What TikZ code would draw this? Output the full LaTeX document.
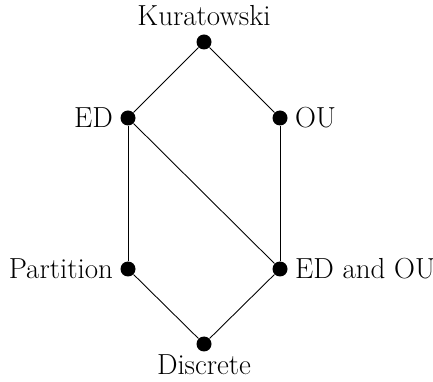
\documentclass[tikz,border=0pt]{standalone}
\usepackage{tikz}
\usetikzlibrary{positioning}

\begin{document}
\begin{tikzpicture}[
  font=\fontsize{16.5}{19}\selectfont,
  topnode/.style={circle, fill=black, minimum size=3mm, inner sep=0pt},
  orderline/.style={draw=black, line width=0.5pt}
]
  \useasboundingbox (0,0) rectangle (8.66,7.62);
  \node[topnode, label={[label distance=0.4mm]above:Kuratowski}] (kur) at (4.08,6.78) {};
  \node[topnode, label={[label distance=0.2mm]left:ED}] (ed) at (2.56,5.26) {};
  \node[topnode, label={[label distance=0.2mm]right:OU}] (ou) at (5.60,5.26) {};
  \node[topnode, label={[label distance=0.2mm]left:Partition}] (part) at (2.56,2.24) {};
  \node[topnode, label={[label distance=0.2mm]right:ED and OU}] (edou) at (5.60,2.24) {};
  \node[topnode, label={[label distance=-0.6mm]below:Discrete}] (disc) at (4.08,0.74) {};
  \draw[orderline] (kur) -- (ed);
  \draw[orderline] (kur) -- (ou);
  \draw[orderline] (ed) -- (part);
  \draw[orderline] (ed) -- (edou);
  \draw[orderline] (ou) -- (edou);
  \draw[orderline] (part) -- (disc);
  \draw[orderline] (edou) -- (disc);
\end{tikzpicture}
\end{document}
